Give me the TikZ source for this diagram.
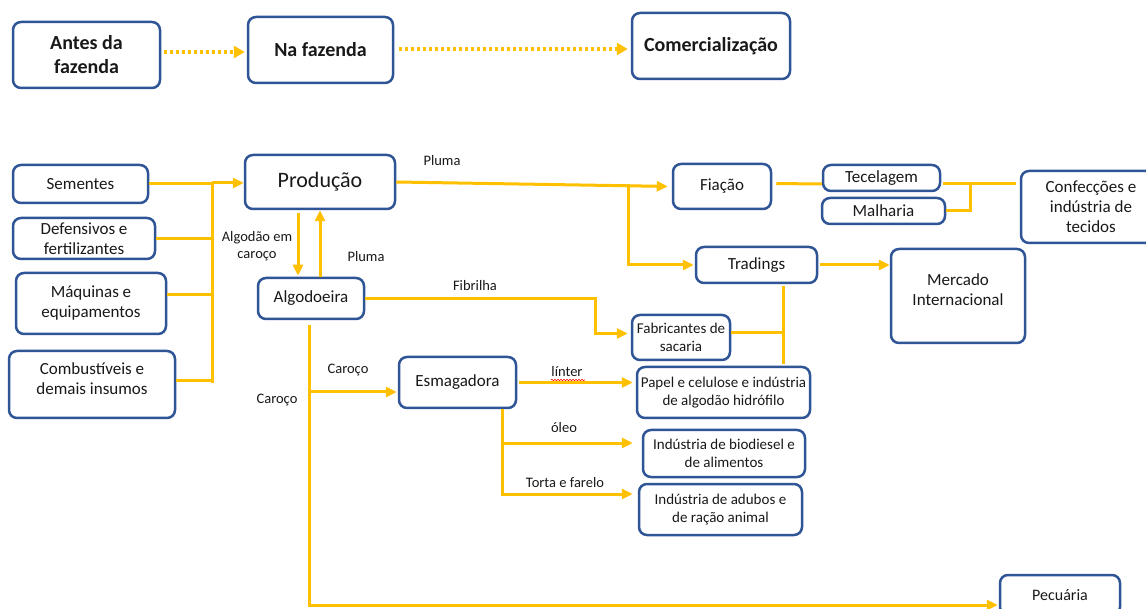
\documentclass[tikz,border=0pt]{standalone}
\usepackage{fontspec}
\setmainfont{Carlito}
\usetikzlibrary{arrows.meta,decorations.pathmorphing}
\definecolor{bblue}{RGB}{47,85,151}
\definecolor{gold}{RGB}{255,192,0}
\tikzset{
  box/.style={draw=bblue, line width=2.5pt, rounded corners=8pt, align=center,
    inner sep=0pt, text=black!90, font=\fontsize{17}{20}\selectfont},
  topbox/.style={box, font=\fontsize{20}{24}\selectfont\bfseries},
  smallbox/.style={box, font=\fontsize{15}{18.5}\selectfont},
  lnk/.style={draw=gold, line width=3pt},
  arr/.style={lnk, -{Triangle[length=11pt,width=10pt]}},
  dotarr/.style={draw=gold, line width=4pt, dash pattern=on 3pt off 3pt,
    -{Triangle[length=11pt,width=12pt]}},
  lbl/.style={inner sep=0pt, text=black!90, font=\fontsize{14.5}{17}\selectfont, align=center},
}
\begin{document}
\begin{tikzpicture}[x=1pt,y=-1pt]
\useasboundingbox (0,0) rectangle (1146,609);
\fill[white] (0,0) rectangle (1146,609);
\clip (0,0) rectangle (1146,609);

% top row
\node[topbox, minimum width=147pt, minimum height=66pt] (antes) at (86.5,55) {Antes da\\fazenda};
\node[topbox, minimum width=145pt, minimum height=66pt] (nafaz) at (320.5,50) {Na fazenda};
\node[topbox, minimum width=158pt, minimum height=66pt] (comerc) at (711,46) {Comercialização};
\draw[dotarr, shorten <=3pt, shorten >=2pt] ([yshift=3pt]antes.east) -- ([yshift=-2pt]nafaz.west);
\draw[dotarr, shorten <=5pt, shorten >=3pt] ([yshift=1pt]nafaz.east) -- ([yshift=-3pt]comerc.west);

% inputs
\node[box, minimum width=135pt, minimum height=38pt] (sem) at (80.5,184) {Sementes};
\node[box, minimum width=142pt, minimum height=41pt] (def) at (84,238.5) {Defensivos e\\fertilizantes};
\node[box, minimum width=150pt, minimum height=61pt] (maq) at (91,303.5) {Máquinas e\\equipamentos};
\node[box, minimum width=166pt, minimum height=67pt, text depth=12pt] (comb) at (92,384.5) {Combustíveis e\\demais insumos};

\node[box, minimum width=150pt, minimum height=54pt, font=\fontsize{22}{26}\selectfont] (prod) at (320,182) {Produção};
\node[box, minimum width=106pt, minimum height=41pt] (algo) at (311,298.5) {Algodoeira};
\node[box, minimum width=98pt, minimum height=45pt] (fiac) at (722,186.5) {Fiação};
\node[box, minimum width=117pt, minimum height=26pt] (tec) at (881.5,178) {Tecelagem};
\node[box, minimum width=123pt, minimum height=26pt] (mal) at (883.5,211) {Malharia};
\node[box, minimum width=140pt, minimum height=72pt] (conf) at (1091,207) {Confecções e\\indústria de\\tecidos};
\node[box, minimum width=121pt, minimum height=36pt] (trad) at (756.5,265) {Tradings};
\node[box, minimum width=134pt, minimum height=94pt, text depth=12pt] (merc) at (958,296) {Mercado\\Internacional};
\node[smallbox, minimum width=98pt, minimum height=45pt] (fab) at (681,337.5) {Fabricantes de\\sacaria};
\node[box, minimum width=117pt, minimum height=51pt] (esm) at (457.5,382.5) {Esmagadora};
\node[smallbox, minimum width=173pt, minimum height=51pt] (pap) at (723.5,392.5) {Papel e celulose e indústria\\de algodão hidrófilo};
\node[smallbox, minimum width=162pt, minimum height=47pt] (bio) at (724,453.5) {Indústria de biodiesel e\\de alimentos};
\node[smallbox, minimum width=163pt, minimum height=51pt] (adu) at (720.5,509.5) {Indústria de adubos e\\de ração animal};
\node[box, minimum width=120pt, minimum height=40pt, font=\fontsize{16}{19}\selectfont] (pec) at (1060,595) {Pecuária};

% input bus
\coordinate (bt) at (212,183);
\coordinate (bb) at (212,383);
\coordinate (me) at ([yshift=9pt]maq.east);
\coordinate (ce) at ([yshift=4pt]comb.east);
\draw[lnk] (sem.east) -- (sem.east -| bt);
\draw[lnk] (def.east) -- (def.east -| bt);
\draw[lnk] (me) -- (me -| bt);
\draw[lnk] (ce) -- (ce -| bt);
\draw[lnk] (bb) -- (bt);
\draw[arr] (bt) -- (prod.west |- bt);

% production <-> ginning
\coordinate (a1) at (298,0);
\coordinate (a2) at (320,0);
\draw[arr, shorten <=3pt, shorten >=1pt] (prod.south -| a1) -- (algo.north -| a1);
\draw[arr] (algo.north -| a2) -- (prod.south -| a2);

% pluma
\coordinate (br1) at (628,184);
\draw[arr, shorten >=4pt] (prod.east) -- (fiac.west);
\draw[arr, shorten >=1pt] (br1) |- (trad.west);

% spinning
\coordinate (ry) at (0,184);
\coordinate (bk) at (970,184);
\draw[lnk, shorten <=4pt] ([yshift=3pt]fiac.east) -- ([yshift=-6pt]tec.west);
\draw[lnk, shorten <=2pt, shorten >=4pt] (tec.east |- ry) -- (conf.west |- ry);
\draw[lnk] (mal.east) -| (bk);

% tradings
\coordinate (tv) at (783,0);
\coordinate (fe) at ([yshift=5pt]fab.east);
\draw[arr, shorten <=2pt] (trad.east) -- (merc.west |- trad.east);
\draw[lnk, shorten <=2pt, shorten >=2pt] (trad.south -| tv) -- (pap.north -| tv);
\draw[lnk] (fe) -- (fe -| tv);

% fibrilha
\coordinate (fb) at (595,0);
\coordinate (fw) at ([yshift=4pt]fab.west);
\draw[arr, shorten >=3pt] (algo.east) -| (fb |- fw) -- (fw);

% caroco
\coordinate (cv) at (309,0);
\coordinate (pw) at ([yshift=-10pt]pec.west);
\coordinate (cb) at (309,392);
\draw[arr, shorten <=5pt, shorten >=1pt] (algo.south -| cv) |- (pw);
\draw[arr, shorten >=1pt] (cb) -- (esm.west |- cb);

% esmagadora outputs
\coordinate (ev) at (502,0);
\coordinate (r1) at (0,443);
\coordinate (r2) at (0,494);
\draw[arr, shorten <=2pt, shorten >=3pt] (esm.east) -- (esm.east -| pap.west);
\draw[lnk] (esm.south -| ev) -- (ev |- r1);
\draw[arr, shorten >=9pt] (ev |- r1) -- (bio.west |- r1);
\draw[arr, shorten >=5pt] (ev |- r1) |- (adu.west |- r2);

% labels
\node[lbl] (lpl1) at (442,161) {Pluma};
\node[lbl] (lac) at (257,246) {Algodão em\\caroço};
\node[lbl] (lpl2) at (366,257) {Pluma};
\node[lbl] (lfib) at (475,286) {Fibrilha};
\node[lbl] (lcar1) at (348,370) {Caroço};
\node[lbl] (lcar2) at (277,400) {Caroço};
\node[lbl] (llin) at (567,372) {línter};
\draw[red, line width=0.6pt, decorate, decoration={snake, amplitude=0.7pt, segment length=3pt}] (551,380) -- (585,380);
\node[lbl] (lole) at (564,428) {óleo};
\node[lbl] (ltor) at (565,483) {Torta e farelo};
\end{tikzpicture}
\end{document}
